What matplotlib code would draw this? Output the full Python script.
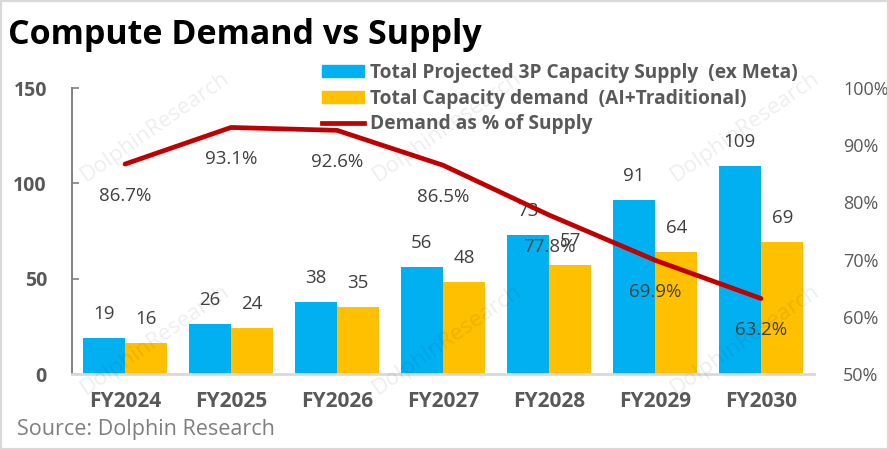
import matplotlib.pyplot as plt
from matplotlib.patches import Rectangle, Patch
from matplotlib.lines import Line2D

years = ["FY2024", "FY2025", "FY2026", "FY2027", "FY2028", "FY2029", "FY2030"]
supply = [19, 26, 38, 56, 73, 91, 109]
demand = [16, 24, 35, 48, 57, 64, 69]
pct = [86.7, 93.1, 92.6, 86.5, 77.8, 69.9, 63.2]

blue = "#00B0F0"
orange = "#FFC000"
red = "#C00000"
txt = "#404040"
gray = "#595959"

plt.rcParams['font.family'] = ['Open Sans', 'DejaVu Sans']

fig = plt.figure(figsize=(8.89, 4.5), dpi=100)
ax = fig.add_axes([72 / 889, 1 - 374 / 450, (814 - 72) / 889, (374 - 88) / 450])
ax2 = ax.twinx()

x = list(range(len(years)))
w = 0.4
b1 = ax.bar([i - w / 2 for i in x], supply, w, color=blue, zorder=2)
b2 = ax.bar([i + w / 2 for i in x], demand, w, color=orange, zorder=2)
for bars, vals in ((b1, supply), (b2, demand)):
    for r, v in zip(bars, vals):
        ax.annotate(str(v), (r.get_x() + r.get_width() / 2, v), xytext=(0, 24),
                    textcoords="offset pixels", ha="center", va="center",
                    fontsize=13.5, color=txt)

ax2.plot(x, [p / 100 for p in pct], color=red, lw=3.4, solid_capstyle="round", zorder=3)
for i, p in zip(x, pct):
    ax2.annotate(f"{p:.1f}%", (i, p / 100), xytext=(0, -32), textcoords="offset pixels",
                 ha="center", va="center", fontsize=13.5, color=txt)

ax.set_xlim(-0.5, len(years) - 0.5)
ax.set_ylim(0, 150)
ax.set_yticks([0, 50, 100, 150])
ax2.set_ylim(0.5, 1.0)
ax2.set_yticks([0.5, 0.6, 0.7, 0.8, 0.9, 1.0])
ax2.set_yticklabels([f"{int(round(t * 100))}%" for t in ax2.get_yticks()])

ax.set_xticks(x)
ax.set_xticklabels(years, fontsize=15, fontweight="bold", color=gray)
ax.tick_params(axis="x", length=0, pad=12)
ax.tick_params(axis="y", direction="in", length=5, width=1.2, color="#808080",
               labelsize=14, labelcolor=gray, pad=18)
for lab in ax.get_yticklabels():
    lab.set_fontweight("bold")
ax2.tick_params(axis="y", length=0, labelsize=13, labelcolor=gray, pad=21)

for s in ("top", "right"):
    ax.spines[s].set_visible(False)
for s in ("top", "right", "left", "bottom"):
    ax2.spines[s].set_visible(False)
ax.spines["left"].set_color("#808080")
ax.spines["left"].set_linewidth(1.4)
ax.spines["bottom"].set_color("#D9D9D9")
ax.spines["bottom"].set_linewidth(2)

handles = [Patch(color=blue), Patch(color=orange), Line2D([], [], color=red, lw=3.4)]
labels = ["Total Projected 3P Capacity Supply  (ex Meta)",
          "Total Capacity demand  (AI+Traditional)",
          "Demand as % of Supply"]
leg = fig.legend(handles, labels, loc="upper left", bbox_to_anchor=(322 / 889, 1 - 63 / 450),
                 frameon=False, borderpad=0, borderaxespad=0, handlelength=2.2,
                 handleheight=0.6, handletextpad=0.3, labelspacing=0.3,
                 prop={"size": 13.8, "weight": "bold"})
for t in leg.get_texts():
    t.set_color(gray)

fig.text(8 / 889, 1 - 35 / 450, "Compute Demand vs Supply", fontsize=24.5,
         fontweight="bold", color="black", va="center", ha="left")
fig.text(17 / 889, 1 - 430 / 450, "Source: Dolphin Research", fontsize=15.5,
         color="#7F7F7F", va="center", ha="left")

# faint watermarks
for wx in (155, 447, 745):
    for wy in (127, 340):
        fig.text(wx / 889, 1 - wy / 450, "DolphinResearch", fontsize=16, color="#000000",
                 alpha=0.07, rotation=35, ha="center", va="center", zorder=0)

fig.patches.append(Rectangle((0, 0), 1, 1, transform=fig.transFigure, fill=False,
                             edgecolor="#D9D9D9", lw=3))

fig.savefig("out.png", dpi=100)
